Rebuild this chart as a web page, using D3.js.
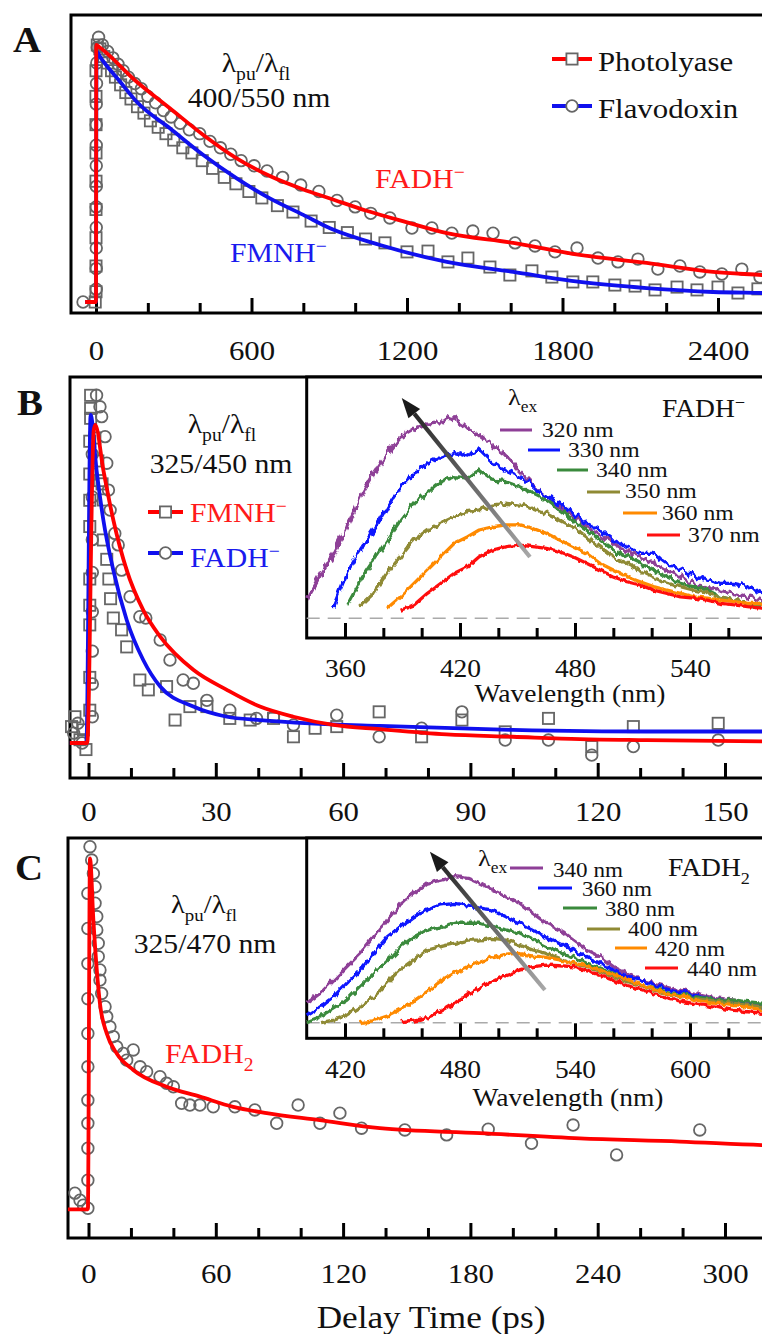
<!DOCTYPE html>
<html><head><meta charset="utf-8">
<script src="https://cdn.jsdelivr.net/npm/d3@7"></script>
<style>
body{margin:0;background:#fff}
svg{display:block}
text{font-family:"Liberation Serif","Times New Roman",serif}
</style>
</head><body>
<svg id="c" width="762" height="1334"></svg>
<script>
// ---------------- DATA ----------------
// Panel A (delay time in ps, normalized intensity)
const aFitRed = [[-42,0],[0,0],[1,1.0],[15,0.99],[157,0.857],[285,0.754],[414,0.650],[543,0.559],[671,0.490],[800,0.438],[903,0.403],[1044,0.355],[1200,0.31],[1354,0.268],[1610,0.230],[1867,0.183],[2125,0.152],[2381,0.117],[2570,0.105],[2700,0.096]];
const aFitBlue = [[-42,0],[0,0],[2,0.975],[15,0.955],[93,0.857],[157,0.779],[285,0.676],[414,0.572],[543,0.481],[671,0.403],[800,0.339],[903,0.287],[1096,0.222],[1354,0.156],[1610,0.117],[1867,0.078],[2125,0.054],[2381,0.039],[2570,0.035],[2700,0.032]];
const aCircles = [[-50,0],[1,0.05],[1,0.13],[1,0.21],[1,0.29],[1,0.37],[1,0.45],[1,0.53],[1,0.61],[1,0.69],[1,0.77],[2,0.85],[3,0.93],[5,0.99],
 [10,1.03],[25,1.0],[45,0.975],[65,0.95],[85,0.925],[105,0.9],[125,0.875],[150,0.85],[175,0.83],[200,0.8],[230,0.775],[260,0.745],[290,0.72],[325,0.695],[360,0.67],[400,0.655],[440,0.625],[480,0.6],[520,0.575],[560,0.55],[610,0.53],[660,0.51],[720,0.485],[790,0.455],[860,0.43],[930,0.395],[1000,0.37],[1060,0.345],[1134,0.327],[1219,0.288],[1296,0.288],[1373,0.268],[1454,0.276],[1532,0.268],[1617,0.230],[1694,0.218],[1771,0.195],[1856,0.210],[1937,0.171],[2014,0.156],[2091,0.167],[2168,0.128],[2253,0.140],[2330,0.117],[2415,0.109],[2492,0.128],[2562,0.097]];
const aSquares = [[-3,0],[0,0.04],[0,0.14],[0,0.25],[0,0.36],[0,0.47],[0,0.58],[0,0.69],[0,0.8],[0,0.9],
 [5,1.0],[15,0.985],[30,0.955],[45,0.93],[60,0.9],[75,0.875],[95,0.845],[115,0.815],[135,0.79],[160,0.76],[185,0.735],[210,0.705],[240,0.68],[270,0.655],[300,0.63],[335,0.6],[370,0.58],[410,0.55],[450,0.52],[495,0.485],[540,0.46],[590,0.43],[640,0.405],[700,0.375],[760,0.35],[830,0.315],[900,0.29],[970,0.27],[1040,0.245],[1115,0.230],[1200,0.195],[1281,0.198],[1358,0.156],[1435,0.171],[1520,0.136],[1597,0.105],[1682,0.121],[1759,0.097],[1840,0.078],[1917,0.078],[2002,0.066],[2080,0.062],[2157,0.047],[2242,0.058],[2319,0.047],[2400,0.058],[2477,0.035],[2554,0.051]];
const aTicksMajor = [0,600,1200,1800,2400];
const aTicksMinor = [200,400,800,1000,1400,1600,2000,2200,2600];

// Panel B
const bFitRed = [[-4.4,0],[-0.3,0],[1.2,0.95],[1.6,0.97],[3.5,0.832],[5.85,0.68],[9.0,0.527],[12.9,0.405],[16.9,0.324],[24.7,0.223],[32.6,0.162],[40.4,0.111],[48.3,0.080],[57.7,0.055],[68.7,0.042],[84.4,0.026],[100,0.019],[115.8,0.012],[131.6,0.009],[160,0.005]];
const bFitBlue = [[-4.4,0],[-0.5,0],[0.5,1.0],[1.9,0.832],[3.5,0.68],[5.85,0.527],[9.0,0.375],[12.9,0.253],[16.9,0.172],[24.7,0.111],[32.6,0.080],[40.4,0.070],[52.2,0.060],[68.7,0.052],[100,0.040],[131.6,0.035],[160,0.035]];
const bSquares = [[-4,0.05],[-3.2,0.08],[-2,0.01],[-0.6,-0.02],[-1.2,0.04],
 [0.3,0.1],[0.3,0.2],[0.3,0.36],[0.3,0.42],[0.3,0.5],[0.3,0.66],[0.3,0.74],[0.3,0.82],[0.3,0.92],[0.5,0.99],[0.5,1.02],[0.5,1.06],
 [1.5,0.93],[2.2,0.86],[2.6,0.8],[3.2,0.79],[3.5,0.741],[3.5,0.619],[4.3,0.56],[4.8,0.5],[5.2,0.44],[5.85,0.381],[7.8,0.345],[9.0,0.293],[12.1,0.192],[14.1,0.162],[18.4,0.172],[20.4,0.070],[23.9,0.111],[27.9,0.111],[33.3,0.075],[38.1,0.070],[43.6,0.075],[48.3,0.019],[53.4,0.045],[58.5,0.050],[68.5,0.095],[78.5,0.019],[88,0.070],[98.2,0.034],[108.4,0.075],[118.6,-0.011],[128.4,0.050],[148.4,0.060]];
const bCircles = [[-3.5,0.03],[-2.5,0.06],[-1.5,0.0],
 [0.9,0.08],[0.9,0.18],[0.9,0.28],[0.9,0.4],[0.9,0.52],[0.9,0.62],[0.9,0.75],[0.9,0.88],
 [1.9,1.06],[2.7,1.025],[3.1,0.995],[3.9,0.934],[4.3,0.853],[4.7,0.771],[5.1,0.71],[6.2,0.639],[7.0,0.604],[7.8,0.527],[9.8,0.446],[12.1,0.385],[13.5,0.381],[16.9,0.314],[19.2,0.253],[22.3,0.192],[24.7,0.182],[27.9,0.13],[33.3,0.1],[39.6,0.075],[43.6,0.080],[48.3,0.055],[58.5,0.085],[68.5,0.019],[78.5,0.045],[88,0.095],[98.2,0.009],[108.4,0.009],[118.6,-0.037],[128.4,-0.011],[148.4,0.009]];
const bTicksMajor = [0,30,60,90,120,150];
const bTicksMinor = [10,20,40,50,70,80,100,110,130,140,160];

// Panel B inset spectra (wavelength nm, intensity)
const bWl = [340,347,354,361,368,375,382,389,396,403,410,417,424,430,437,444,451,458,465,472,479,486,493,500,507,514,521,528,535,542,549,556,563,570,578];
const b320 = [0.09,0.205,0.32,0.45,0.60,0.714,0.813,0.895,0.936,0.961,0.968,0.993,0.94,0.90,0.85,0.80,0.73,0.66,0.60,0.55,0.50,0.45,0.41,0.37,0.33,0.30,0.27,0.23,0.20,0.17,0.15,0.13,0.12,0.106,0.09];
const b330 = [null,null,0.06,0.222,0.336,0.435,0.55,0.648,0.714,0.764,0.796,0.821,0.80,0.829,0.764,0.731,0.698,0.657,0.60,0.567,0.517,0.468,0.435,0.386,0.353,0.32,0.32,0.271,0.238,0.205,0.189,0.172,0.172,0.156,0.123];
const b340 = [null,null,null,0.066,0.189,0.287,0.386,0.484,0.567,0.616,0.673,0.698,0.69,0.731,0.681,0.673,0.648,0.616,0.583,0.534,0.484,0.435,0.386,0.336,0.303,0.271,0.238,0.205,0.172,0.156,0.139,0.106,0.09,0.074,0.057];
const b350 = [null,null,null,null,0.06,0.123,0.222,0.303,0.386,0.435,0.468,0.5,0.525,0.534,0.558,0.567,0.558,0.542,0.517,0.484,0.451,0.402,0.353,0.303,0.271,0.238,0.205,0.172,0.156,0.139,0.123,0.106,0.09,0.074,0.066];
const b360 = [null,null,null,null,null,null,0.05,0.106,0.172,0.238,0.303,0.369,0.402,0.435,0.451,0.46,0.46,0.443,0.419,0.386,0.353,0.32,0.271,0.238,0.205,0.18,0.156,0.139,0.123,0.106,0.099,0.09,0.082,0.074,0.074];
const b370 = [null,null,null,null,null,null,null,0.04,0.066,0.123,0.172,0.222,0.254,0.303,0.336,0.353,0.361,0.353,0.345,0.328,0.303,0.271,0.238,0.205,0.18,0.164,0.139,0.123,0.106,0.099,0.09,0.074,0.066,0.057,0.049];
const bExLabels = ["320 nm","330 nm","340 nm","350 nm","360 nm","370 nm"];
const biTicksMajor = [360,420,480,540,600];
const biTickLabels = [360,420,480,540];
const biTicksMinor = [380,400,440,460,500,520,560,580];

// Panel C
const cFitRed = [[-9.7,0],[-0.3,0],[0.7,1.0],[2.3,0.824],[3.9,0.682],[5.4,0.586],[8.6,0.501],[13.3,0.444],[21.1,0.397],[36.8,0.349],[52.5,0.321],[68.2,0.292],[84,0.274],[109,0.254],[137.3,0.231],[184.5,0.217],[231.6,0.202],[278.7,0.193],[317.3,0.183],[335,0.18]];
const cCircles = [[-6.4,0.046],[-4,0.026],[-2.4,0.012],
 [-0.3,0.003],[-0.3,0.083],[-0.3,0.174],[-0.3,0.245],[-0.3,0.311],[-0.3,0.406],[-0.3,0.501],[-0.3,0.6],[-0.3,0.7],[-0.3,0.8],[-0.3,0.9],
 [0.7,1.033],[1.5,0.995],[2.3,0.957],[3.1,0.919],[3.1,0.872],[3.9,0.834],[3.9,0.796],[4.6,0.758],[4.6,0.720],[5.4,0.682],[5.4,0.653],[6.2,0.615],[7.8,0.577],[8.6,0.549],[10.1,0.520],[11.7,0.492],[13.3,0.463],[16.4,0.444],[21.1,0.454],[18.0,0.425],[24.3,0.406],[27.4,0.392],[33.7,0.378],[36.8,0.359],[40,0.349],[43.9,0.302],[47.8,0.297],[52.5,0.297],[58.8,0.292],[69,0.292],[78.4,0.283],[88.7,0.245],[98.8,0.297],[109.1,0.245],[118.5,0.274],[128.7,0.231],[149.1,0.226],[168.8,0.212],[188.4,0.228],[208.8,0.188],[228.4,0.240],[248.9,0.155],[288.1,0.226]];
const cTicksMajor = [0,60,120,180,240,300];
const cTicksMinor = [20,40,80,100,140,160,200,220,260,280,320];

// Panel C inset spectra
const cWl = [400,407,414,421,428,435,442,449,456,463,470,477,484,490,497,504,511,518,525,532,539,546,553,560,567,574,581,588,595,602,609,616,623,630,638];
const c340 = [0.133,0.201,0.292,0.384,0.475,0.589,0.703,0.818,0.886,0.955,0.977,1.0,0.989,0.955,0.909,0.863,0.818,0.749,0.681,0.635,0.566,0.498,0.452,0.384,0.338,0.292,0.27,0.247,0.224,0.201,0.178,0.167,0.155,0.133,0.121];
const c360 = [0.053,0.11,0.178,0.27,0.361,0.475,0.589,0.658,0.726,0.772,0.806,0.818,0.806,0.784,0.772,0.726,0.681,0.635,0.589,0.544,0.498,0.452,0.407,0.361,0.315,0.292,0.258,0.236,0.213,0.19,0.167,0.155,0.144,0.133,0.11];
const c380 = [0.007,0.041,0.098,0.155,0.247,0.338,0.429,0.521,0.589,0.635,0.658,0.681,0.681,0.681,0.658,0.635,0.612,0.566,0.521,0.486,0.452,0.407,0.372,0.338,0.292,0.258,0.236,0.213,0.19,0.178,0.167,0.155,0.155,0.144,0.133];
const c400 = [null,0.0,0.018,0.053,0.11,0.178,0.27,0.361,0.429,0.498,0.521,0.544,0.566,0.566,0.578,0.566,0.532,0.498,0.475,0.441,0.407,0.384,0.349,0.315,0.281,0.258,0.224,0.201,0.178,0.167,0.155,0.144,0.133,0.121,0.11];
const c420 = [null,null,null,null,0.0,0.015,0.045,0.09,0.15,0.215,0.285,0.34,0.385,0.415,0.445,0.47,0.475,0.458,0.447,0.43,0.41,0.39,0.36,0.33,0.298,0.262,0.23,0.205,0.182,0.158,0.14,0.127,0.117,0.105,0.087];
const c440 = [null,null,null,null,null,null,null,0.007,0.018,0.035,0.075,0.13,0.19,0.24,0.285,0.33,0.36,0.384,0.395,0.39,0.384,0.355,0.325,0.29,0.255,0.23,0.2,0.172,0.15,0.13,0.115,0.1,0.085,0.075,0.064];
const cExLabels = ["340 nm","360 nm","380 nm","400 nm","420 nm","440 nm"];
const ciTicksMajor = [420,480,540,600,660];
const ciTickLabels = [420,480,540,600];
const ciTicksMinor = [440,460,500,520,560,580,620,640];

const specColors = ["#8e3f97","#0a14ff","#3a8a3c","#8f8a34","#ff8a00","#ff1010"];

// ---------------- DRAWING ----------------
const svg = d3.select("#c");
const SX = 1.1;
const INK = "#111";
const MK = "#666";

// jagged-stroke filters (visual texture only)
const defs = svg.append("defs");
function noiseFilter(id, scale, seed) {
  const f = defs.append("filter").attr("id",id).attr("x","-5%").attr("y","-20%").attr("width","110%").attr("height","140%")
    .attr("filterUnits","objectBoundingBox");
  f.append("feTurbulence").attr("type","fractalNoise").attr("baseFrequency","0.22 0.06")
    .attr("numOctaves",2).attr("seed",seed).attr("result","t");
  f.append("feDisplacementMap").attr("in","SourceGraphic").attr("in2","t").attr("scale",scale)
    .attr("xChannelSelector","R").attr("yChannelSelector","G");
}
noiseFilter("nz8",9,2); noiseFilter("nz6",7,5); noiseFilter("nz3",3.5,7); noiseFilter("nz5",6,11);

const aX = d3.scaleLinear().domain([0,2400]).range([96,718]);
const aY = d3.scaleLinear().domain([0,1]).range([302,45]);
const bX = d3.scaleLinear().domain([0,150]).range([88.5,725]);
const bY = d3.scaleLinear().domain([0,1]).range([743,415]);
const cX = d3.scaleLinear().domain([0,300]).range([88.5,725]);
const cY = d3.scaleLinear().domain([0,1]).range([1209.3,858.3]);
const biX = d3.scaleLinear().domain([360,540]).range([345,690]);
const biY = d3.scaleLinear().domain([0,1]).range([618.3,415.3]);
const ciX = d3.scaleLinear().domain([420,600]).range([345,690]);
const ciY = d3.scaleLinear().domain([0,1]).range([1022.7,876.7]);

function rich(g, x, y, parts, size, opts={}) {
  const t = g.append("text")
    .attr("transform", `translate(${x},${y}) scale(${opts.sx||SX},1)`)
    .attr("font-size", size)
    .attr("fill", opts.fill || INK)
    .attr("text-anchor", opts.anchor || "start");
  if (opts.weight) t.attr("font-weight", opts.weight);
  let cur = 0;
  parts.forEach(p => {
    if (typeof p === "string") p = {t:p};
    const target = p.sub ? size*0.3 : (p.sup ? -size*0.38 : 0);
    const ts = t.append("tspan").text(p.t).attr("dy", target - cur);
    if (p.sub || p.sup) ts.attr("font-size", size*0.66);
    cur = target;
  });
  return t;
}

function frame(x0,y0,x1,y1,fill){
  svg.append("rect").attr("x",x0).attr("y",y0).attr("width",x1-x0).attr("height",y1-y0)
    .attr("fill",fill||"none").attr("stroke","#000").attr("stroke-width",3);
}

function ticks(scale, y, majors, minors, baseline, size, majLen, minLen, labels) {
  const gm = svg.append("g").attr("transform",`translate(0,${y})`)
    .call(d3.axisBottom(scale).tickValues(minors).tickSize(-minLen).tickFormat(""));
  gm.select(".domain").remove();
  gm.selectAll(".tick line").attr("stroke","#000").attr("stroke-width",3);
  const pad = baseline - y - 0.71*size;
  const show = labels || majors;
  const gM = svg.append("g").attr("transform",`translate(0,${y})`)
    .call(d3.axisBottom(scale).tickValues(majors).tickSize(-majLen).tickPadding(pad)
      .tickFormat(d => show.includes(d) ? d3.format("d")(d) : ""));
  gM.attr("font-family",null).attr("font-size",null);
  gM.select(".domain").remove();
  gM.selectAll(".tick line").attr("stroke","#000").attr("stroke-width",3);
  gM.selectAll(".tick text").attr("font-size",size).attr("fill",INK)
    .attr("font-family",'"Liberation Serif","Times New Roman",serif')
    .attr("transform",`scale(${SX},1)`);
}

function markers(g, data, X, Y, shape) {
  if (shape === "circle") {
    g.selectAll(null).data(data).join("circle")
      .attr("cx",d=>X(d[0])).attr("cy",d=>Y(d[1])).attr("r",5.8)
      .attr("fill","none").attr("stroke",MK).attr("stroke-width",1.8);
  } else {
    g.selectAll(null).data(data).join("rect")
      .attr("x",d=>X(d[0])-5.6).attr("y",d=>Y(d[1])-5.6).attr("width",11.2).attr("height",11.2)
      .attr("fill","none").attr("stroke",MK).attr("stroke-width",1.8);
  }
}

function fitLine(g, data, X, Y, color, w) {
  g.append("path").datum(data)
    .attr("d", d3.line().x(d=>X(d[0])).y(d=>Y(d[1])).curve(d3.curveMonotoneX))
    .attr("fill","none").attr("stroke",color).attr("stroke-width",w||3.8)
    .attr("stroke-linejoin","round");
}

function spectra(g, wl, series, X, Y, filters) {
  series.forEach((s,i) => {
    const pts = wl.map((w,j)=>[w,s[j]]);
    const p = g.append("path").datum(pts)
      .attr("d", d3.line().defined(d=>d[1]!==null).x(d=>X(d[0])).y(d=>Y(d[1])))
      .attr("fill","none").attr("stroke",specColors[i]).attr("stroke-width",3.3)
      .attr("stroke-linejoin","round");
    if (filters[i]) p.attr("filter",`url(#${filters[i]})`);
  });
}

function legendSample(g, x1, x2, y, color, shape) {
  g.append("line").attr("x1",x1).attr("x2",x2).attr("y1",y).attr("y2",y)
    .attr("stroke",color).attr("stroke-width",3.8);
  const cx = (x1+x2)/2;
  if (shape==="circle") g.append("circle").attr("cx",cx).attr("cy",y).attr("r",5.8).attr("fill","#fff").attr("stroke",MK).attr("stroke-width",1.8);
  else if (shape==="square") g.append("rect").attr("x",cx-5.6).attr("y",y-5.6).attr("width",11.2).attr("height",11.2).attr("fill","#fff").attr("stroke",MK).attr("stroke-width",1.8);
}

function arrow(g, id, X, Y, tail, tip) {
  const x1=X(tail[0]), y1=Y(tail[1]), x2=X(tip[0]), y2=Y(tip[1]);
  const grad = defs.append("linearGradient").attr("id",id)
    .attr("gradientUnits","userSpaceOnUse").attr("x1",x1).attr("y1",y1).attr("x2",x2).attr("y2",y2);
  grad.append("stop").attr("offset","0").attr("stop-color","#a8a8a8");
  grad.append("stop").attr("offset","1").attr("stop-color","#1a1a1a");
  const ang = Math.atan2(y2-y1, x2-x1), L=20, W=7.5;
  const bx = x2 - L*Math.cos(ang), by = y2 - L*Math.sin(ang);
  g.append("line").attr("x1",x1).attr("y1",y1).attr("x2",bx).attr("y2",by)
    .attr("stroke",`url(#${id})`).attr("stroke-width",4.2);
  const px = -Math.sin(ang)*W, py = Math.cos(ang)*W;
  g.append("path").attr("d",`M${x2},${y2}L${bx+px},${by+py}L${bx-px},${by-py}Z`).attr("fill","#1a1a1a");
}

// ===== Panel A =====
frame(71,15,800,313);
ticks(aX, 313, aTicksMajor, aTicksMinor, 360, 28, 15, 10);
const gA = svg.append("g");
markers(gA, aCircles, aX, aY, "circle");
markers(gA, aSquares, aX, aY, "square");
fitLine(gA, aFitBlue, aX, aY, "#1010ee");
fitLine(gA, aFitRed, aX, aY, "#ff0000");
rich(svg, 256, 72, ["λ",{t:"pu",sub:true},"/λ",{t:"fl",sub:true}], 27, {anchor:"middle"});
rich(svg, 259, 107, ["400/550 nm"], 27, {anchor:"middle"});
legendSample(svg, 552, 592, 59, "#ff0000", "square");
rich(svg, 598, 71, ["Photolyase"], 28);
legendSample(svg, 552, 592, 106, "#1010ee", "circle");
rich(svg, 598, 118, ["Flavodoxin"], 28);
rich(svg, 375, 188, ["FADH",{t:"−",sup:true}], 27, {fill:"#ff1a1a"});
rich(svg, 230, 262, ["FMNH",{t:"−",sup:true}], 27, {fill:"#1a1aee"});
rich(svg, 13, 52, ["A"], 36, {weight:"bold", sx:1.08});

// ===== Panel B =====
frame(70,377,800,778);
ticks(bX, 778, bTicksMajor, bTicksMinor, 821, 28, 15, 10);
const gB = svg.append("g");
markers(gB, bSquares, bX, bY, "square");
markers(gB, bCircles, bX, bY, "circle");
fitLine(gB, bFitBlue, bX, bY, "#1010ee");
fitLine(gB, bFitRed, bX, bY, "#ff0000");
rich(svg, 222, 433, ["λ",{t:"pu",sub:true},"/λ",{t:"fl",sub:true}], 27, {anchor:"middle"});
rich(svg, 221, 473, ["325/450 nm"], 27, {anchor:"middle"});
legendSample(svg, 148, 183, 512, "#ff0000", "square");
rich(svg, 190, 522, ["FMNH",{t:"−",sup:true}], 27, {fill:"#ff1a1a"});
legendSample(svg, 148, 183, 553, "#1010ee", "circle");
rich(svg, 190, 567, ["FADH",{t:"−",sup:true}], 27, {fill:"#1a1aee"});
rich(svg, 17, 415, ["B"], 36, {weight:"bold", sx:1.08});

// inset B
frame(306.7,377,800,638,"#fff");
const gBi = svg.append("g");
gBi.append("line").attr("x1",306.7).attr("x2",800).attr("y1",biY(0)).attr("y2",biY(0))
  .attr("stroke","#aaa").attr("stroke-width",1.6).attr("stroke-dasharray","13,8");
spectra(gBi, bWl, [b320,b330,b340,b350,b360,b370], biX, biY, ["nz8","nz8","nz6","nz6","nz3","nz3"]);
arrow(gBi, "gradB", biX, biY, [456.5,0.302], [389.6,1.085]);
ticks(biX, 638, biTicksMajor, biTicksMinor, 677, 25, 15, 10, biTickLabels);
rich(svg, 570, 702, ["Wavelength (nm)"], 25, {anchor:"middle"});
rich(svg, 508, 405, ["λ",{t:"ex",sub:true}], 24);
const bLeg = [[500,532,430,542,437],[528,560,450,568,457],[557,588,470,596,477],[587,620,492,625,498],[623,657,513,662,520],[647,680,535,688,542]];
bLeg.forEach((r,i)=>{
  svg.append("line").attr("x1",r[0]).attr("x2",r[1]).attr("y1",r[2]).attr("y2",r[2]).attr("stroke",specColors[i]).attr("stroke-width",3);
  rich(svg, r[3], r[4], [bExLabels[i]], 21.5);
});
rich(svg, 662, 417, ["FADH",{t:"−",sup:true}], 25);

// ===== Panel C =====
frame(68,838,800,1238);
ticks(cX, 1238, cTicksMajor, cTicksMinor, 1283, 28, 15, 10);
const gC = svg.append("g");
markers(gC, cCircles, cX, cY, "circle");
fitLine(gC, cFitRed, cX, cY, "#ff0000");
rich(svg, 204, 913, ["λ",{t:"pu",sub:true},"/λ",{t:"fl",sub:true}], 26, {anchor:"middle"});
rich(svg, 205, 953, ["325/470 nm"], 27, {anchor:"middle"});
rich(svg, 165, 1063, ["FADH",{t:"2",sub:true}], 27, {fill:"#ff1a1a"});
rich(svg, 15, 880, ["C"], 36, {weight:"bold", sx:1.08});

// inset C
frame(306.7,838,800,1038.3,"#fff");
const gCi = svg.append("g");
gCi.append("line").attr("x1",306.7).attr("x2",800).attr("y1",ciY(0)).attr("y2",ciY(0))
  .attr("stroke","#aaa").attr("stroke-width",1.6).attr("stroke-dasharray","13,8");
spectra(gCi, cWl, [c340,c360,c380,c400,c420,c440], ciX, ciY, ["nz5","nz5","nz5","nz5","nz5","nz5"]);
arrow(gCi, "gradC", ciX, ciY, [524.3,0.224], [464.3,1.171]);
ticks(ciX, 1038.3, ciTicksMajor, ciTicksMinor, 1078, 25, 15, 10, ciTickLabels);
rich(svg, 568, 1106, ["Wavelength (nm)"], 25, {anchor:"middle"});
rich(svg, 478, 866, ["λ",{t:"ex",sub:true}], 24);
const cLeg = [[510,543,868,553,877],[538,572,888,582,896],[563,597,908,605,916],[587,620,929,628,936],[615,647,948,655,956],[645,678,968,687,976]];
cLeg.forEach((r,i)=>{
  svg.append("line").attr("x1",r[0]).attr("x2",r[1]).attr("y1",r[2]).attr("y2",r[2]).attr("stroke",specColors[i]).attr("stroke-width",3);
  rich(svg, r[3], r[4], [cExLabels[i]], 21);
});
rich(svg, 668, 876, ["FADH",{t:"2",sub:true}], 25);

// shared x-axis title
rich(svg, 431, 1328, ["Delay Time (ps)"], 32, {anchor:"middle"});
</script>
</body></html>
